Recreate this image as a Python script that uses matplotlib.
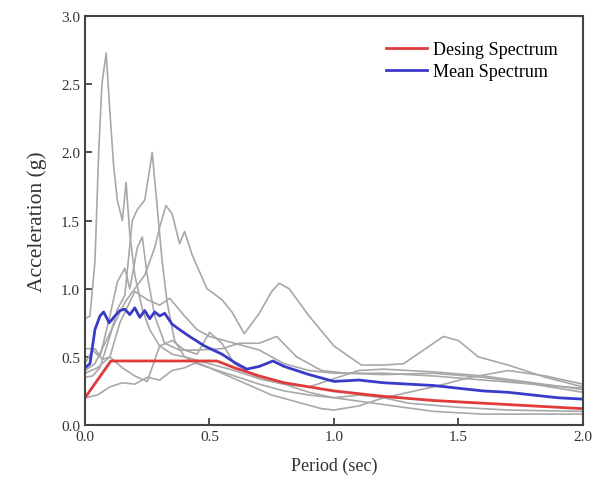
import matplotlib.pyplot as plt

plt.rcParams['font.family'] = ['Liberation Serif', 'DejaVu Serif']

# ground motion records
t1 = [0.0, 0.02, 0.04, 0.055, 0.068, 0.085, 0.1, 0.115, 0.13, 0.15, 0.165, 0.18, 0.2, 0.23, 0.26, 0.3, 0.35, 0.4, 0.5, 0.6, 0.7, 0.8, 0.9, 1.0, 1.1, 1.2, 1.4, 1.6, 1.8, 2.0]
a1 = [0.78, 0.8, 1.2, 2.0, 2.5, 2.73, 2.3, 1.9, 1.65, 1.5, 1.78, 1.4, 1.1, 0.85, 0.7, 0.58, 0.52, 0.5, 0.45, 0.4, 0.34, 0.3, 0.28, 0.34, 0.4, 0.41, 0.39, 0.36, 0.31, 0.26]

t2 = [0.0, 0.03, 0.06, 0.1, 0.13, 0.16, 0.19, 0.21, 0.24, 0.27, 0.29, 0.31, 0.33, 0.36, 0.4, 0.45, 0.5, 0.6, 0.7, 0.8, 0.9, 1.0, 1.1, 1.2, 1.3, 1.5, 1.7, 2.0]
a2 = [0.35, 0.36, 0.42, 0.65, 0.85, 0.95, 1.5, 1.58, 1.65, 2.0, 1.6, 1.2, 0.9, 0.62, 0.5, 0.45, 0.42, 0.36, 0.3, 0.25, 0.22, 0.2, 0.22, 0.2, 0.16, 0.13, 0.11, 0.1]

t3 = [0.0, 0.04, 0.08, 0.12, 0.16, 0.2, 0.24, 0.28, 0.3, 0.325, 0.35, 0.38, 0.4, 0.43, 0.49, 0.55, 0.59, 0.64, 0.7, 0.75, 0.78, 0.82, 0.9, 1.0, 1.11, 1.2, 1.28, 1.36, 1.44, 1.5, 1.58, 1.7, 1.85, 2.0]
a3 = [0.4, 0.45, 0.6, 0.75, 0.9, 1.0, 1.1, 1.3, 1.45, 1.61, 1.55, 1.33, 1.42, 1.25, 1.0, 0.92, 0.83, 0.67, 0.82, 0.98, 1.04, 1.0, 0.8, 0.58, 0.44, 0.44, 0.45, 0.55, 0.65, 0.62, 0.5, 0.44, 0.35, 0.28]

t4 = [0.0, 0.03, 0.06, 0.1, 0.13, 0.16, 0.18, 0.21, 0.23, 0.25, 0.28, 0.32, 0.38, 0.45, 0.55, 0.62, 0.7, 0.77, 0.85, 0.95, 1.05, 1.2, 1.4, 1.6, 1.8, 2.0]
a4 = [0.45, 0.55, 0.5, 0.8, 1.05, 1.15, 1.0, 1.3, 1.38, 1.1, 0.8, 0.6, 0.55, 0.55, 0.56, 0.6, 0.6, 0.65, 0.5, 0.4, 0.38, 0.37, 0.38, 0.35, 0.3, 0.27]

t5 = [0.0, 0.04, 0.07, 0.1, 0.14, 0.2, 0.25, 0.3, 0.34, 0.4, 0.45, 0.5, 0.6, 0.7, 0.8, 0.9, 1.0, 1.2, 1.4, 1.6, 1.8, 2.0]
a5 = [0.56, 0.56, 0.48, 0.5, 0.75, 0.98, 0.92, 0.88, 0.93, 0.8, 0.7, 0.65, 0.6, 0.55, 0.45, 0.4, 0.38, 0.38, 0.36, 0.33, 0.3, 0.24]

t6 = [0.0, 0.05, 0.1, 0.15, 0.2, 0.25, 0.3, 0.35, 0.4, 0.45, 0.5, 0.55, 0.65, 0.75, 0.85, 0.95, 1.0, 1.1, 1.2, 1.4, 1.55, 1.7, 1.85, 2.0]
a6 = [0.2, 0.22, 0.28, 0.31, 0.3, 0.35, 0.33, 0.4, 0.42, 0.46, 0.42, 0.38, 0.3, 0.22, 0.17, 0.12, 0.11, 0.14, 0.2, 0.28, 0.35, 0.4, 0.36, 0.3]

t7 = [0.0, 0.05, 0.1, 0.15, 0.2, 0.25, 0.3, 0.35, 0.4, 0.45, 0.5, 0.55, 0.6, 0.7, 0.8, 0.9, 1.0, 1.2, 1.4, 1.6, 1.8, 2.0]
a7 = [0.38, 0.42, 0.5, 0.42, 0.36, 0.32, 0.58, 0.62, 0.55, 0.52, 0.68, 0.6, 0.45, 0.34, 0.3, 0.24, 0.2, 0.15, 0.1, 0.08, 0.08, 0.08]

records = [(t1, a1), (t2, a2), (t3, a3), (t4, a4), (t5, a5), (t6, a6), (t7, a7)]

# design spectrum
t_design = [0.0, 0.104, 0.53, 0.6, 0.7, 0.8, 0.9, 1.0, 1.2, 1.4, 1.6, 1.8, 2.0]
a_design = [0.2, 0.47, 0.47, 0.42, 0.36, 0.31, 0.28, 0.25, 0.21, 0.18, 0.16, 0.14, 0.12]

# mean spectrum
t_mean = [0.0, 0.02, 0.04, 0.06, 0.075, 0.097, 0.12, 0.14, 0.16, 0.18, 0.2, 0.22, 0.24, 0.26, 0.28, 0.3, 0.32, 0.35, 0.38, 0.42, 0.48, 0.55, 0.6, 0.65, 0.7, 0.755, 0.8, 0.9, 1.0, 1.1, 1.2, 1.3, 1.4, 1.5, 1.6, 1.7, 1.8, 1.9, 2.0]
a_mean = [0.42, 0.45, 0.7, 0.8, 0.83, 0.75, 0.8, 0.84, 0.85, 0.81, 0.86, 0.79, 0.84, 0.78, 0.83, 0.8, 0.82, 0.74, 0.7, 0.65, 0.58, 0.52, 0.46, 0.41, 0.43, 0.47, 0.43, 0.37, 0.32, 0.33, 0.31, 0.3, 0.29, 0.27, 0.25, 0.24, 0.22, 0.2, 0.19]

fig = plt.figure(figsize=(6.02, 4.85), dpi=100)
ax = fig.add_axes([0.1412, 0.1216, 0.827, 0.843])

for t, a in records:
    ax.plot(t, a, color='#a8a8a8', lw=1.2)
ax.plot(t_design, a_design, color='#e03a3a', lw=2, label='Desing Spectrum')
ax.plot(t_mean, a_mean, color='#3a3ac8', lw=2, label='Mean Spectrum')

ax.set_xlim(0, 2.0)
ax.set_ylim(0, 3.0)
ax.set_xticks([0.0, 0.5, 1.0, 1.5, 2.0])
ax.set_yticks([0.0, 0.5, 1.0, 1.5, 2.0, 2.5, 3.0])
ax.tick_params(direction='in', length=5, width=1.2, labelsize=11, colors='#333333')
for s in ax.spines.values():
    s.set_color('#444444')
    s.set_linewidth(1.5)
ax.set_xlabel('Period (sec)', fontsize=13, color='#333333', labelpad=10)
ax.set_ylabel('Acceleration (g)', fontsize=15.5, color='#333333', labelpad=10)
ax.legend(loc='upper right', frameon=False, fontsize=13, handlelength=2.3,
          handletextpad=0.3, labelspacing=0.25, borderaxespad=1.0)

fig.savefig('out.png', dpi=100)
